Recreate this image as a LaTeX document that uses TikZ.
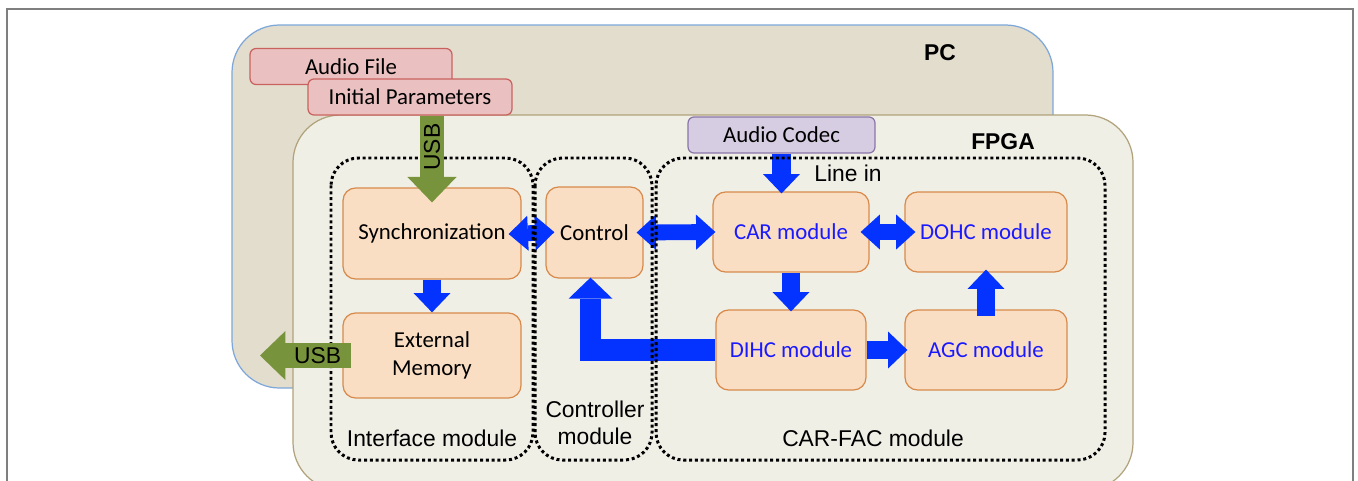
\documentclass[tikz,border=0pt]{standalone}
\usepackage{fontspec}
\setmainfont{Carlito}
\newfontfamily\arialfont{Liberation Sans}
\usetikzlibrary{arrows.meta}

\definecolor{framegray}{HTML}{7F7F7F}
\definecolor{pcfill}{HTML}{E3DDCE}
\definecolor{pcline}{HTML}{7DA7D9}
\definecolor{fpgafill}{HTML}{F0EFE6}
\definecolor{fpgaline}{HTML}{B0A27A}
\definecolor{filefill}{HTML}{EAC1C0}
\definecolor{fileline}{HTML}{C9625F}
\definecolor{codecfill}{HTML}{D7CDE2}
\definecolor{codecline}{HTML}{8A74A8}
\definecolor{blockfill}{HTML}{FADEC4}
\definecolor{blockline}{HTML}{D88A4C}
\definecolor{modtext}{HTML}{1A1AFF}
\definecolor{arrowblue}{HTML}{0433FF}
\definecolor{usbgreen}{HTML}{77933C}

\begin{document}
\begin{tikzpicture}[
    x=0.02cm, y=-0.02cm,
    every node/.style={font=\fontsize{13}{15.5}\selectfont},
    modlabel/.style={font=\arialfont\fontsize{13}{15.5}\selectfont},
    boxtitle/.style={font=\arialfont\bfseries\fontsize{13}{15.5}\selectfont},
    block/.style={draw=blockline, fill=blockfill, line width=0.7pt, rounded corners=0.25cm},
    infile/.style={draw=fileline, fill=filefill, line width=0.7pt, rounded corners=0.12cm, minimum height=0.72cm},
    codec/.style={draw=codecline, fill=codecfill, line width=0.7pt, rounded corners=0.12cm, minimum height=0.72cm},
    modbox/.style={draw=black, line width=1.7pt, dash pattern=on 1.7pt off 1.6pt, rounded corners=0.55cm},
    dblarrow/.style={draw=arrowblue, line width=9pt,
        {Triangle[length=11pt,width=20pt,line width=0pt]}-{Triangle[length=11pt,width=20pt,line width=0pt]}},
    onearrow/.style={draw=arrowblue, line width=10.5pt, -{Triangle[length=11pt,width=21pt,line width=0pt]}},
    elbowarrow/.style={draw=arrowblue, line width=12pt, line join=miter, -{Triangle[length=12pt,width=25pt,line width=0pt]}},
    usbarrow/.style={draw=usbgreen, line width=14pt, -{Triangle[length=14.5pt,width=28pt,line width=0pt]}}
]
\useasboundingbox (0,0) rectangle (1358,480);
\clip (0,0) rectangle (1358,480);

% Frame
\draw[framegray, line width=1pt] (7,9) rectangle (1353,530);

% PC and FPGA
\draw[pcline, fill=pcfill, line width=0.7pt, rounded corners=0.95cm] (232,25) rectangle (1053,388);
\node[boxtitle] (pc) at (940,53) {PC};
\draw[fpgaline, fill=fpgafill, line width=0.7pt, rounded corners=0.95cm] (293,115) rectangle (1133,490);
\node[boxtitle] (fpga) at (1003,142) {FPGA};

% Files and codec
\node[infile, minimum width=4.04cm] (audio) at (351,66.5) {Audio File};
\node[infile, minimum width=4.08cm] (initpar) at (410,97) {Initial Parameters};
\node[codec, minimum width=3.74cm] (codec) at (781.5,135) {Audio Codec};

% Blocks
\node[block, minimum width=3.56cm, minimum height=1.82cm] (sync) at (432,233.5) {Synchronization};
\node[block, minimum width=1.94cm, minimum height=1.82cm] (ctrl) at (594.5,232.5) {Control};
\node[block, minimum width=3.56cm, minimum height=1.70cm, align=center] (extmem) at (432,355.5) {External\\Memory};
\node[block, text=modtext, minimum width=3.12cm, minimum height=1.6cm] (car) at (791,232) {CAR module};
\node[block, text=modtext, minimum width=3.24cm, minimum height=1.6cm] (dohc) at (986,232) {DOHC module};
\node[block, text=modtext, minimum width=3.0cm, minimum height=1.6cm] (dihc) at (791,350) {DIHC module};
\node[block, text=modtext, minimum width=3.24cm, minimum height=1.6cm] (agc) at (986,350) {AGC module};

% Data paths
\draw[dblarrow, shorten <=-0.26cm, shorten >=-0.18cm] (sync.east) -- (ctrl.west);
\draw[dblarrow, shorten <=-0.14cm, shorten >=-0.06cm] (ctrl.east) -- (car.west);
\draw[dblarrow, shorten <=-0.18cm, shorten >=-0.22cm] (car.east) -- (dohc.west);
\draw[onearrow, shorten >=-0.04cm] (codec.south) -- (codec.south |- car.north);
\draw[onearrow] (sync.south) -- (extmem.north);
\draw[onearrow, shorten >=-0.04cm] (car.south) -- (dihc.north);
\draw[onearrow, shorten >=-0.06cm] (dihc.east) -- (agc.west);
\draw[onearrow, shorten <=-0.14cm, shorten >=-0.06cm] (agc.north) -- (dohc.south);
\draw[elbowarrow, shorten >=-0.02cm] (dihc.west) -| ([xshift=-0.08cm]ctrl.south);

% Modules
\draw[modbox] (331,158) rectangle (533,460);
\draw[modbox] (535,158) rectangle (652,460);
\draw[modbox] (656,158) rectangle (1105,460);
\node[modlabel] (ifmod) at (432,438) {Interface module};
\node[modlabel, align=center] (ctrlmod) at (595,423) {Controller\\module};
\node[modlabel] (carfacmod) at (873,438) {CAR-FAC module};
\node[modlabel] (linein) at (848,173) {Line in};

% USB
\coordinate (usbout) at (260,355.5);
\draw[usbarrow, shorten >=-0.3cm] (initpar.south -| sync.north) -- node[modlabel, pos=0.44, rotate=90] {USB} (sync.north);
\draw[usbarrow, shorten <=-0.18cm] (extmem.west) -- node[modlabel, pos=0.3] {USB} (usbout);

\end{tikzpicture}
\end{document}
